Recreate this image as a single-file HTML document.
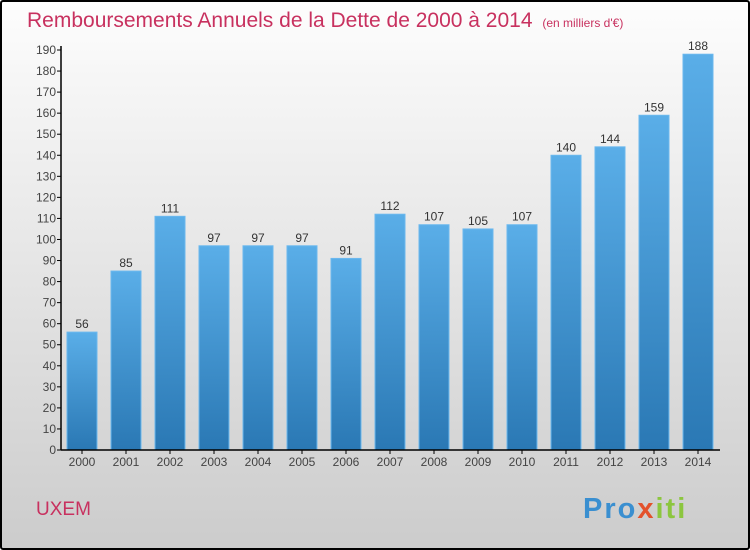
<!DOCTYPE html>
<html><head><meta charset="utf-8"><style>
html,body{margin:0;padding:0}
body{width:750px;height:550px;overflow:hidden;font-family:"Liberation Sans",sans-serif}
#frame{position:absolute;left:0;top:0;width:746px;height:546px;border:2px solid #000;border-radius:3px;background:linear-gradient(#fdfdfd,#cccccc)}
</style></head><body>
<div id="frame"></div>
<svg id="chart" width="750" height="550" style="position:absolute;left:0;top:0">
<defs><linearGradient id="bg" x1="0" y1="0" x2="0" y2="1"><stop offset="0" stop-color="#5aaee8"/><stop offset="1" stop-color="#2a78b4"/></linearGradient></defs>
<text x="27" y="27" font-size="21" fill="#c8315f">Remboursements Annuels de la Dette de 2000 à 2014 <tspan font-size="12" dx="4">(en milliers d'€)</tspan></text>
<text x="36" y="515" font-size="19" fill="#c8315f">UXEM</text>
<text x="583" y="518" font-size="29" font-weight="bold" letter-spacing="2" fill="#3a8fd0">Pro<tspan fill="#e3512b">x</tspan><tspan fill="#8cc63f">iti</tspan></text>
<g id="plot"></g>
</svg>
<script>
const years=["2000","2001","2002","2003","2004","2005","2006","2007","2008","2009","2010","2011","2012","2013","2014"];
const values=[56,85,111,97,97,97,91,112,107,105,107,140,144,159,188];
const yTicks=[0,10,20,30,40,50,60,70,80,90,100,110,120,130,140,150,160,170,180,190];
const NS="http://www.w3.org/2000/svg";
const g=document.getElementById('plot');
const y0=450,yTop=50,yMax=190,x0=61,x1=720;
const y=v=>y0-(v/yMax)*(y0-yTop);
const xc=i=>82+i*44;
function mk(t,a){const e=document.createElementNS(NS,t);for(const k in a)e.setAttribute(k,a[k]);g.appendChild(e);return e;}
yTicks.forEach(t=>{
  const l=mk('line',{x1:x0-4,x2:x0,y1:y(t),y2:y(t),stroke:'#000'});
  
  
  const tx=mk('text',{x:x0-5,y:y(t)+4,'text-anchor':'end','font-size':12,fill:'#444'});
  tx.textContent=t;
  
  
});
values.forEach((v,i)=>{
  const r=mk('rect',{x:xc(i)-15,y:y(v),width:30,height:y0-y(v),fill:'url(#bg)',stroke:'#6bb8ee','stroke-width':1});
  
  
  const lb=mk('text',{x:xc(i),y:y(v)-4,'text-anchor':'middle','font-size':12,fill:'#333'});
  lb.textContent=v;
  
  
  const tk=mk('line',{x1:xc(i),x2:xc(i),y1:y0,y2:y0+4,stroke:'#000'});
  
  
  const xl=mk('text',{x:xc(i),y:y0+16,'text-anchor':'middle','font-size':12,fill:'#444'});
  xl.textContent=years[i];
  
  
});
const ya=mk('line',{x1:x0,x2:x0,y1:y(yMax)-4,y2:y0,stroke:'#000','stroke-width':1.5});


const xa=mk('line',{x1:x0,x2:x1,y1:y0,y2:y0,stroke:'#000','stroke-width':1.5});


</script>
</body></html>
